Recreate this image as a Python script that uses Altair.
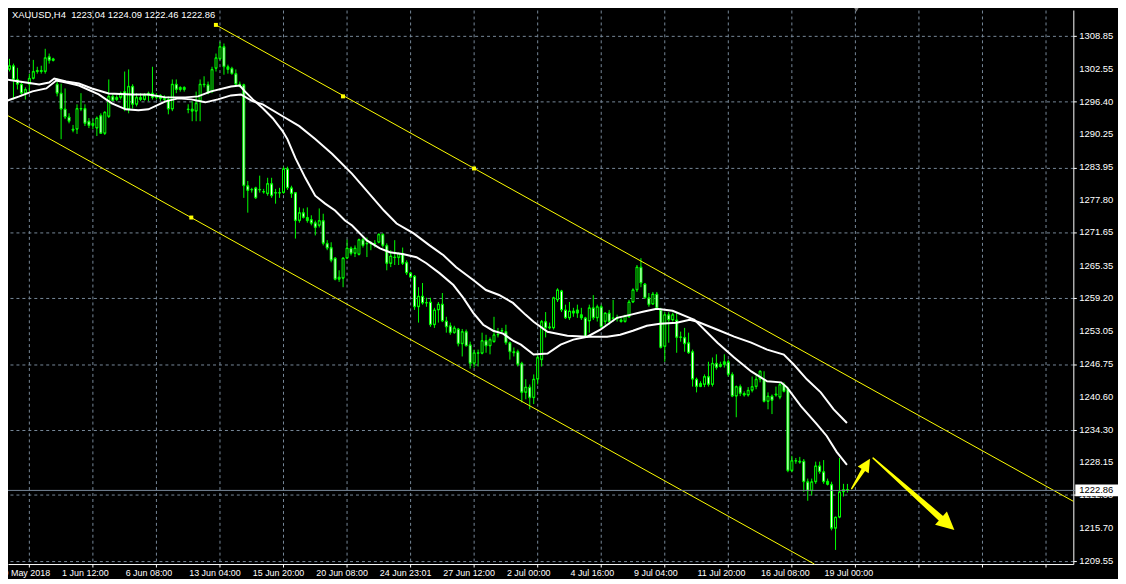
import altair as alt
import pandas as pd

# ---------------- data ----------------
opens = [1296.8, 1303.6, 1302.5, 1303.2, 1300.6, 1299.7, 1298.0, 1299.7, 1300.8, 1302.1,
         1302.3, 1302.1, 1304.9, 1304.2, 1299.7, 1298.0, 1295.0, 1293.5, 1291.2, 1291.2,
         1295.1, 1295.1, 1292.7, 1291.9, 1291.4, 1293.8, 1290.4, 1293.6, 1297.4, 1296.8,
         1297.2, 1298.3, 1295.0, 1299.3, 1295.9, 1297.2, 1296.8, 1297.6, 1298.0, 1297.2,
         1297.6, 1297.0, 1296.8, 1295.0, 1299.7, 1298.7, 1299.1, 1295.0, 1295.0, 1294.6,
         1296.5, 1299.7, 1299.6, 1298.3, 1302.7, 1304.5, 1306.8, 1303.0, 1302.7, 1301.7,
         1299.7, 1299.6, 1280.5, 1279.7, 1280.1, 1279.7, 1279.4, 1279.0, 1280.9, 1279.2,
         1279.1, 1279.2, 1283.7, 1280.1, 1279.2, 1273.9, 1275.4, 1274.5, 1274.1, 1273.5,
         1273.0, 1273.9, 1269.6, 1268.8, 1266.8, 1262.8, 1263.0, 1266.8, 1268.7, 1267.7,
         1267.5, 1270.3, 1269.6, 1269.5, 1269.6, 1269.8, 1271.3, 1269.2, 1265.8, 1267.0,
         1266.9, 1267.7, 1266.0, 1264.0, 1263.4, 1257.6, 1259.6, 1258.3, 1258.5, 1254.2,
         1257.0, 1258.1, 1254.9, 1254.0, 1252.7, 1253.4, 1250.6, 1252.9, 1250.4, 1246.9,
         1248.9, 1248.8, 1251.2, 1250.2, 1251.0, 1252.3, 1253.1, 1252.9, 1250.8, 1249.1,
         1249.1, 1246.9, 1241.4, 1242.4, 1240.4, 1243.9, 1247.6, 1254.8, 1253.8, 1253.6,
         1258.9, 1260.6, 1257.0, 1255.5, 1256.8, 1256.4, 1256.1, 1255.5, 1254.9, 1257.4,
         1255.5, 1257.6, 1254.8, 1256.4, 1255.5, 1255.3, 1255.1, 1254.8, 1255.7, 1258.5,
         1260.8, 1265.1, 1261.9, 1259.3, 1258.1, 1260.0, 1257.0, 1250.1, 1256.1, 1255.1,
         1255.1, 1251.9, 1251.8, 1250.8, 1249.1, 1243.9, 1242.5, 1242.9, 1244.4, 1242.9,
         1246.9, 1246.3, 1246.7, 1247.2, 1244.8, 1240.7, 1242.5, 1241.2, 1240.9, 1241.8,
         1242.5, 1243.9, 1243.9, 1239.7, 1240.7, 1240.9, 1240.5, 1242.9, 1242.0, 1226.6,
         1228.5, 1228.4, 1228.4, 1224.5, 1222.8, 1224.5, 1227.5, 1226.4, 1224.6, 1224.0,
         1215.7, 1217.8, 1222.6, 1223.04]

highs = [1306.8, 1304.7, 1304.5, 1303.6, 1302.8, 1300.2, 1299.1, 1301.7, 1304.3, 1303.0,
         1303.2, 1306.4, 1305.5, 1304.7, 1300.8, 1299.8, 1298.9, 1294.2, 1292.0, 1295.9,
         1298.0, 1295.9, 1293.3, 1293.1, 1293.6, 1294.2, 1294.6, 1300.6, 1297.8, 1297.6,
         1298.3, 1302.1, 1302.5, 1299.7, 1298.0, 1298.0, 1298.0, 1298.3, 1303.0, 1298.0,
         1297.8, 1297.6, 1297.4, 1300.6, 1300.6, 1299.3, 1299.3, 1295.9, 1296.5, 1298.3,
         1300.6, 1301.2, 1300.2, 1303.0, 1305.5, 1307.7, 1307.4, 1303.4, 1303.0, 1302.5,
         1300.2, 1299.8, 1281.4, 1280.1, 1280.3, 1282.4, 1279.9, 1282.0, 1282.0, 1279.9,
         1280.1, 1284.1, 1284.1, 1280.5, 1279.2, 1276.4, 1276.2, 1276.4, 1274.9, 1273.9,
         1276.2, 1275.2, 1270.2, 1269.8, 1267.0, 1264.5, 1267.0, 1270.3, 1269.0, 1269.2,
         1270.5, 1270.7, 1270.7, 1270.0, 1270.2, 1271.5, 1271.5, 1269.6, 1268.3, 1270.2,
         1267.9, 1268.8, 1266.4, 1264.2, 1263.6, 1261.3, 1262.1, 1259.3, 1259.3, 1257.4,
         1258.5, 1260.2, 1255.7, 1254.6, 1254.0, 1253.6, 1253.4, 1253.3, 1251.0, 1249.5,
         1249.5, 1252.7, 1252.3, 1251.8, 1255.7, 1253.6, 1253.6, 1254.2, 1251.0, 1249.9,
         1249.5, 1247.2, 1243.9, 1242.9, 1244.8, 1248.6, 1255.1, 1256.6, 1254.6, 1259.5,
         1261.1, 1260.8, 1258.0, 1258.5, 1257.4, 1258.0, 1257.4, 1255.7, 1258.0, 1259.8,
         1258.0, 1258.0, 1256.6, 1257.0, 1258.9, 1256.1, 1255.5, 1256.1, 1258.9, 1261.1,
         1265.5, 1266.8, 1262.1, 1260.2, 1260.4, 1260.4, 1257.4, 1256.6, 1256.6, 1256.5,
         1256.5, 1252.9, 1253.6, 1252.7, 1249.5, 1244.2, 1243.5, 1244.8, 1247.2, 1248.0,
         1248.6, 1247.2, 1248.6, 1247.6, 1245.2, 1242.7, 1242.9, 1241.6, 1242.4, 1244.4,
         1244.8, 1245.6, 1245.4, 1241.4, 1241.0, 1242.5, 1243.3, 1243.3, 1242.4, 1229.4,
         1229.0, 1229.2, 1228.8, 1225.1, 1225.1, 1228.3, 1228.3, 1228.6, 1225.1, 1224.5,
         1217.9, 1229.0, 1224.1, 1224.09]

lows = [1296.1, 1302.1, 1302.1, 1296.8, 1298.7, 1297.4, 1296.8, 1298.3, 1300.6, 1301.7,
        1301.7, 1301.7, 1303.6, 1304.0, 1297.4, 1289.3, 1293.1, 1292.3, 1290.6, 1290.3,
        1294.6, 1291.8, 1291.4, 1291.2, 1289.9, 1290.3, 1290.1, 1293.3, 1296.5, 1296.5,
        1296.8, 1294.6, 1294.2, 1295.1, 1295.5, 1296.5, 1296.6, 1296.5, 1296.8, 1296.8,
        1296.5, 1296.5, 1294.0, 1294.6, 1298.0, 1298.3, 1298.3, 1294.2, 1292.7, 1292.7,
        1292.7, 1299.1, 1297.8, 1298.0, 1302.1, 1304.3, 1301.5, 1301.7, 1301.5, 1299.3,
        1299.1, 1278.2, 1275.4, 1279.2, 1278.0, 1279.2, 1279.0, 1278.6, 1278.2, 1277.1,
        1278.2, 1279.0, 1279.7, 1278.2, 1270.5, 1273.5, 1274.3, 1273.5, 1273.0, 1271.1,
        1272.6, 1269.2, 1268.3, 1266.0, 1262.6, 1262.3, 1261.3, 1266.6, 1267.3, 1267.0,
        1267.3, 1268.8, 1267.0, 1268.3, 1268.8, 1269.6, 1268.8, 1264.5, 1265.1, 1265.5,
        1265.5, 1265.5, 1263.6, 1263.0, 1257.0, 1254.6, 1258.0, 1257.6, 1253.8, 1253.6,
        1254.6, 1254.7, 1252.7, 1252.3, 1252.5, 1250.1, 1248.2, 1250.1, 1245.9, 1246.1,
        1246.3, 1248.6, 1248.9, 1248.6, 1250.8, 1251.8, 1252.7, 1250.4, 1247.6, 1248.2,
        1246.3, 1239.5, 1240.1, 1238.2, 1239.2, 1242.9, 1246.3, 1251.8, 1253.3, 1253.3,
        1258.5, 1256.6, 1255.3, 1255.1, 1255.7, 1255.5, 1255.1, 1251.7, 1252.7, 1255.1,
        1254.8, 1253.6, 1254.2, 1254.2, 1254.8, 1254.8, 1254.6, 1254.6, 1255.5, 1258.3,
        1260.4, 1261.3, 1259.1, 1257.6, 1258.0, 1257.0, 1249.7, 1247.2, 1250.8, 1254.8,
        1248.9, 1251.0, 1249.1, 1248.7, 1242.5, 1241.4, 1242.4, 1242.4, 1242.5, 1242.5,
        1245.7, 1246.1, 1246.1, 1244.4, 1240.5, 1236.7, 1240.7, 1240.6, 1240.6, 1241.4,
        1242.0, 1243.3, 1239.5, 1238.2, 1237.3, 1240.6, 1240.1, 1241.4, 1226.3, 1226.3,
        1227.9, 1227.9, 1222.6, 1220.9, 1221.9, 1224.1, 1226.0, 1224.1, 1223.8, 1215.3,
        1211.6, 1217.6, 1221.7, 1222.46]

closes = [1303.6, 1302.5, 1303.2, 1300.6, 1299.7, 1298.0, 1298.7, 1300.8, 1302.1, 1302.3,
          1302.1, 1304.7, 1304.2, 1304.5, 1298.0, 1295.0, 1293.5, 1292.7, 1291.0, 1295.1,
          1295.0, 1292.3, 1291.9, 1292.3, 1293.3, 1290.4, 1294.4, 1297.4, 1296.6, 1297.2,
          1298.0, 1295.0, 1299.3, 1295.9, 1297.2, 1296.8, 1297.6, 1298.0, 1297.2, 1297.6,
          1297.0, 1296.8, 1295.0, 1299.7, 1298.7, 1299.1, 1298.7, 1294.9, 1294.6, 1296.1,
          1299.7, 1299.6, 1298.0, 1302.5, 1304.7, 1306.8, 1303.0, 1302.5, 1301.7, 1299.7,
          1299.6, 1280.5, 1279.6, 1279.8, 1278.2, 1279.8, 1279.3, 1280.9, 1278.6, 1279.1,
          1279.2, 1283.7, 1280.1, 1279.0, 1273.9, 1275.4, 1274.5, 1273.9, 1273.4, 1272.6,
          1273.9, 1269.6, 1268.7, 1266.4, 1262.8, 1263.2, 1266.8, 1268.7, 1267.7, 1268.7,
          1270.3, 1269.2, 1269.5, 1269.6, 1269.5, 1271.3, 1269.2, 1265.8, 1267.2, 1266.9,
          1267.7, 1265.8, 1264.0, 1263.2, 1257.6, 1259.6, 1258.3, 1258.4, 1254.2, 1257.0,
          1258.1, 1254.9, 1253.8, 1252.7, 1253.6, 1250.6, 1252.9, 1250.2, 1246.9, 1248.9,
          1248.8, 1251.2, 1250.2, 1251.4, 1252.3, 1252.4, 1253.0, 1250.8, 1249.1, 1248.9,
          1246.7, 1241.4, 1242.4, 1240.4, 1243.9, 1248.0, 1254.8, 1253.6, 1253.6, 1259.3,
          1260.8, 1257.0, 1255.5, 1256.8, 1256.4, 1257.0, 1255.5, 1251.9, 1257.4, 1255.5,
          1257.6, 1253.8, 1256.4, 1254.8, 1255.4, 1255.4, 1254.8, 1255.9, 1258.5, 1260.8,
          1265.1, 1262.1, 1259.3, 1258.0, 1260.0, 1257.4, 1249.9, 1256.1, 1255.1, 1256.1,
          1251.8, 1251.8, 1250.6, 1248.9, 1243.9, 1242.5, 1243.1, 1244.4, 1242.9, 1246.9,
          1246.1, 1246.7, 1247.2, 1244.8, 1240.7, 1242.5, 1241.2, 1240.9, 1241.8, 1242.5,
          1243.9, 1245.4, 1239.7, 1240.7, 1239.9, 1241.1, 1242.9, 1241.6, 1226.6, 1228.5,
          1228.4, 1228.2, 1224.5, 1222.8, 1224.5, 1227.5, 1226.4, 1224.5, 1224.0, 1215.7,
          1217.8, 1222.6, 1223.0, 1222.86]

# two moving averages, sampled along the bar axis
fast_ma_bar = [-0.4, 4.6, 9.6, 12.1, 13.4, 16.4, 19.6, 22.9, 27.1, 32.9,
               37.1, 41.4, 46.4, 49.6, 52.9, 57.9, 60.1, 61.4, 63.4, 65.9,
               68.4, 70.9, 72.1, 74.1, 76.6, 79.1, 81.6, 84.1, 86.6, 88.4,
               92.1, 95.4, 97.9, 101.4, 104.6, 107.1, 110.4, 113.9, 116.4, 118.9,
               121.4, 123.9, 126.4, 128.9, 130.9, 134.1, 137.6, 140.9, 144.1, 147.6,
               150.9, 155.1, 158.4, 161.6, 165.1, 169.1, 173.4, 174.6, 180.4, 184.6,
               188.9, 192.9, 196.4, 197.9, 201.4, 205.4, 207.9, 210.4, 213.0]
fast_ma = [1300.78, 1300.21, 1299.65, 1300.03, 1300.78, 1300.21, 1299.84, 1298.90, 1297.96, 1297.77,
           1297.77, 1297.21, 1297.21, 1297.40, 1298.34, 1299.27, 1299.46, 1298.34, 1296.83, 1295.14,
           1293.26, 1290.82, 1289.32, 1285.75, 1281.99, 1278.61, 1277.11, 1275.80, 1273.92, 1272.98,
           1270.16, 1268.66, 1267.91, 1267.53, 1266.97, 1265.84, 1263.96, 1261.71, 1259.27, 1256.45,
           1254.20, 1253.07, 1252.51, 1251.19, 1250.44, 1248.56, 1248.75, 1250.44, 1251.38, 1251.94,
           1253.26, 1255.51, 1256.07, 1256.64, 1257.20, 1256.83, 1255.51, 1255.13, 1250.81, 1248.00,
           1245.37, 1243.49, 1243.30, 1242.36, 1238.79, 1235.41, 1233.16, 1230.15, 1227.71]

slow_ma_bar = [-0.4, 4.6, 7.9, 11.4, 13.9, 16.4, 19.6, 24.6, 27.9, 31.4,
               34.6, 37.1, 41.4, 44.6, 47.9, 51.4, 54.6, 57.9, 60.4, 63.4,
               65.9, 70.9, 75.1, 79.1, 83.4, 88.4, 96.4, 99.6, 103.9, 107.9,
               111.4, 114.6, 118.9, 122.1, 125.4, 128.9, 132.1, 134.1, 137.6, 142.6,
               147.6, 152.6, 155.9, 159.1, 162.6, 165.9, 170.1, 173.4, 175.4, 180.4,
               184.6, 188.9, 192.9, 197.1, 199.6, 202.9, 206.4, 209.6, 213.0]
slow_ma = [1296.08, 1297.40, 1298.34, 1298.90, 1300.40, 1300.03, 1299.46, 1297.77, 1296.08, 1294.95,
           1294.77, 1294.95, 1296.46, 1297.02, 1296.83, 1296.27, 1296.83, 1297.58, 1297.77, 1296.46,
           1295.89, 1293.64, 1291.76, 1289.32, 1286.50, 1282.75, 1275.80, 1273.35, 1271.48, 1269.22,
           1267.34, 1265.09, 1262.65, 1260.77, 1259.83, 1258.33, 1256.07, 1254.76, 1252.88, 1252.13,
           1251.94, 1251.94, 1252.32, 1253.07, 1254.01, 1254.38, 1254.57, 1255.13, 1254.76, 1253.26,
           1251.94, 1250.81, 1249.50, 1248.56, 1246.68, 1243.87, 1241.42, 1238.23, 1235.60]

# equidistant channel (two parallel lines) and its anchor squares
channel_bar = [54.1, 270.0, -0.4, 204.8]
channel_price = [1310.92, 1220.80, 1294.63, 1208.93]
channel_line = ["upper", "upper", "lower", "lower"]
anchor_bar = [54.1, 86.1, 119.1, 47.9]
anchor_price = [1310.92, 1297.40, 1283.76, 1274.48]

# hand-drawn arrows: tail -> shaft end, and tip
arrow_bar = [214.2, 217.4, 219.6, 237.1]
arrow_price = [1223.20, 1227.09, 1228.97, 1217.30]
arrow_id = ["up", "up", "down", "down"]
arrow_tip_bar = [218.8, 240.05]
arrow_tip_price = [1228.84, 1215.37]

# axes
price_ticks = [1209.55, 1215.70, 1222.00, 1228.15, 1234.30, 1240.60, 1246.75, 1253.05,
               1259.20, 1265.35, 1271.65, 1277.80, 1283.95, 1290.25, 1296.40, 1302.55, 1308.85]
time_tick_bars = list(range(7, 264, 8))
time_label_bars = [-1, 15, 31, 47, 63, 79, 95, 111, 127, 143, 159, 175, 191, 207]
time_labels = ["29 May 2018", "1 Jun 12:00", "6 Jun 08:00", "13 Jun 04:00", "15 Jun 20:00",
               "20 Jun 08:00", "24 Jun 23:01", "27 Jun 12:00", "2 Jul 00:00", "4 Jul 16:00",
               "9 Jul 04:00", "11 Jul 20:00", "16 Jul 08:00", "19 Jul 00:00"]

symbol = "XAUUSD,H4"

# ---------------- styling ----------------
LIME = "#00ff00"
GRID = "#778899"
YELLOW = "#ffff00"
FONT = "Liberation Sans"
W, H = 1073, 558

n = len(closes)
candles = pd.DataFrame({"bar": list(range(n)), "open": opens, "high": highs,
                        "low": lows, "close": closes})
candles["top"] = candles[["open", "close"]].max(axis=1)
candles["bottom"] = candles[["open", "close"]].min(axis=1)
candles["kind"] = ["bull" if c >= o else "bear" for o, c in zip(opens, closes)]
inner = candles[(candles["top"] - candles["bottom"]) > 0.6]

xs = alt.Scale(domain=[1.75, 270.0], nice=False, zero=False)
ys = alt.Scale(domain=[1208.93, 1313.73], nice=False, zero=False)

x_axis = alt.Axis(values=time_tick_bars, labels=False, orient="bottom", title=None,
                  tickColor="white", tickSize=3, domainColor="white",
                  gridColor=GRID, gridDash=[3, 3], gridWidth=1, gridOpacity=1)
y_axis = alt.Axis(values=price_ticks, labels=False, orient="right", title=None,
                  tickColor="white", tickSize=3, domainColor="white",
                  gridColor=GRID, gridDash=[3, 3], gridWidth=1, gridOpacity=1)


def X(field="bar"):
    return alt.X(f"{field}:Q", scale=xs, title=None)


def Y(field):
    return alt.Y(f"{field}:Q", scale=ys, title=None)


wicks = alt.Chart(candles).mark_rule(color=LIME, strokeWidth=1, xOffset=0.5).encode(
    x=alt.X("bar:Q", scale=xs, axis=x_axis),
    y=alt.Y("low:Q", scale=ys, axis=y_axis),
    y2="high:Q",
)

bodies = alt.Chart(candles).mark_rect(fill=LIME, stroke=LIME, strokeWidth=1,
                                      xOffset=-0.5, x2Offset=1.5).encode(
    x=X(), x2="bar:Q", y=Y("top"), y2="bottom:Q"
)

cores = alt.Chart(inner).mark_rule(strokeWidth=1, xOffset=0.5, yOffset=1, y2Offset=-1).encode(
    x=X(), y=Y("top"), y2="bottom:Q",
    color=alt.Color("kind:N", scale=alt.Scale(domain=["bull", "bear"],
                                              range=["#000000", "#ffffff"]), legend=None),
)

fast_df = pd.DataFrame({"bar": fast_ma_bar, "price": fast_ma})
slow_df = pd.DataFrame({"bar": slow_ma_bar, "price": slow_ma})
fast_line = alt.Chart(fast_df).mark_line(color="white", strokeWidth=2).encode(
    x=X(), y=Y("price"))
slow_line = alt.Chart(slow_df).mark_line(color="white", strokeWidth=2).encode(
    x=X(), y=Y("price"))

chan_df = pd.DataFrame({"bar": channel_bar, "price": channel_price, "line": channel_line})
channel = alt.Chart(chan_df).mark_line(color=YELLOW, strokeWidth=1).encode(
    x=X(), y=Y("price"), detail="line:N")
anch_df = pd.DataFrame({"bar": anchor_bar, "price": anchor_price})
anchors = alt.Chart(anch_df).mark_square(color=YELLOW, size=16, opacity=1).encode(
    x=X(), y=Y("price"))

# axis labels as text marks placed through the scales
ylab_df = pd.DataFrame({"price": price_ticks})
ylabels = alt.Chart(ylab_df).mark_text(color="white", align="left", baseline="middle",
                                       font=FONT, fontSize=9.5).encode(
    y=Y("price"), x=alt.value(W + 6), text=alt.Text("price:Q", format=".2f"))
xlab_df = pd.DataFrame({"bar": time_label_bars, "label": time_labels})
xlabels = alt.Chart(xlab_df).mark_text(color="white", align="left", baseline="middle",
                                       font=FONT, fontSize=9, dx=1.5).encode(
    x=X(), y=alt.value(H + 9.5), text="label:N")

last_df = pd.DataFrame({"price": [closes[-1]], "label": [f"{closes[-1]:.2f}"]})
bid_line = alt.Chart(last_df).mark_rule(color=GRID, strokeWidth=1).encode(
    y=Y("price"), x=alt.value(0), x2=alt.value(W + 2))
bid_box = alt.Chart(last_df).mark_rect(color="white", yOffset=-6, y2Offset=6).encode(
    y=Y("price"), y2="price:Q", x=alt.value(W + 2), x2=alt.value(W + 45))
bid_text = alt.Chart(last_df).mark_text(color="black", align="left", baseline="middle",
                                        font=FONT, fontSize=9.5).encode(
    y=Y("price"), x=alt.value(W + 6), text="label:N")

shaft_df = pd.DataFrame({"bar": arrow_bar, "price": arrow_price, "arrow": arrow_id,
                         "w": [1.5, 4.5, 1.5, 6.5]})
shafts = alt.Chart(shaft_df).mark_trail(color=YELLOW).encode(
    x=X(), y=Y("price"), detail="arrow:N",
    size=alt.Size("w:Q", scale=None, legend=None))
head_df = pd.DataFrame({"bar": arrow_tip_bar, "price": arrow_tip_price,
                        "angle": [31.5, 131.5], "s": [169, 324]})
heads = alt.Chart(head_df).mark_point(shape="M0,0L-1,2L1,2Z", filled=True, color=YELLOW,
                                      opacity=1, strokeWidth=0).encode(
    x=X(), y=Y("price"),
    angle=alt.Angle("angle:Q", scale=None),
    size=alt.Size("s:Q", scale=None, legend=None))

title_df = pd.DataFrame({"t": [f"{symbol}\u00a0 {opens[-1]:.2f} {highs[-1]:.2f} "
                               f"{lows[-1]:.2f} {closes[-1]:.2f}"]})
title = alt.Chart(title_df).mark_text(color="white", align="left", baseline="middle",
                                      font=FONT, fontSize=9.5).encode(
    x=alt.value(4), y=alt.value(5.5), text="t:N")
title_marker = alt.Chart(title_df).mark_point(shape="triangle-down", filled=True,
                                              color="white", size=22, opacity=1).encode(
    x=alt.value(-4), y=alt.value(5))

# window frame top edge and the chart-shift marker hanging from it
frame_top = alt.Chart(title_df).mark_rule(color="#c0c0c0", strokeWidth=1).encode(
    x=alt.value(-8), x2=alt.value(W + 0.5), y=alt.value(-3.5))
shift_marker = alt.Chart(title_df).mark_point(shape="triangle-down", filled=True,
                                              color="#808080", size=40, opacity=1).encode(
    x=alt.value(854.5), y=alt.value(-1))

chart = alt.layer(
    wicks, bodies, cores, fast_line, slow_line, channel, anchors,
    bid_line, ylabels, xlabels, bid_box, bid_text, shafts, heads, title, title_marker,
    frame_top, shift_marker
).properties(
    width=W, height=H, background="black",
    padding={"left": 0, "top": 0, "right": 45, "bottom": 13},
    autosize=alt.AutoSizeParams(type="none"),
).configure_view(stroke=None)

chart.save("out.html", embed_options={"renderer": "svg", "actions": False})
